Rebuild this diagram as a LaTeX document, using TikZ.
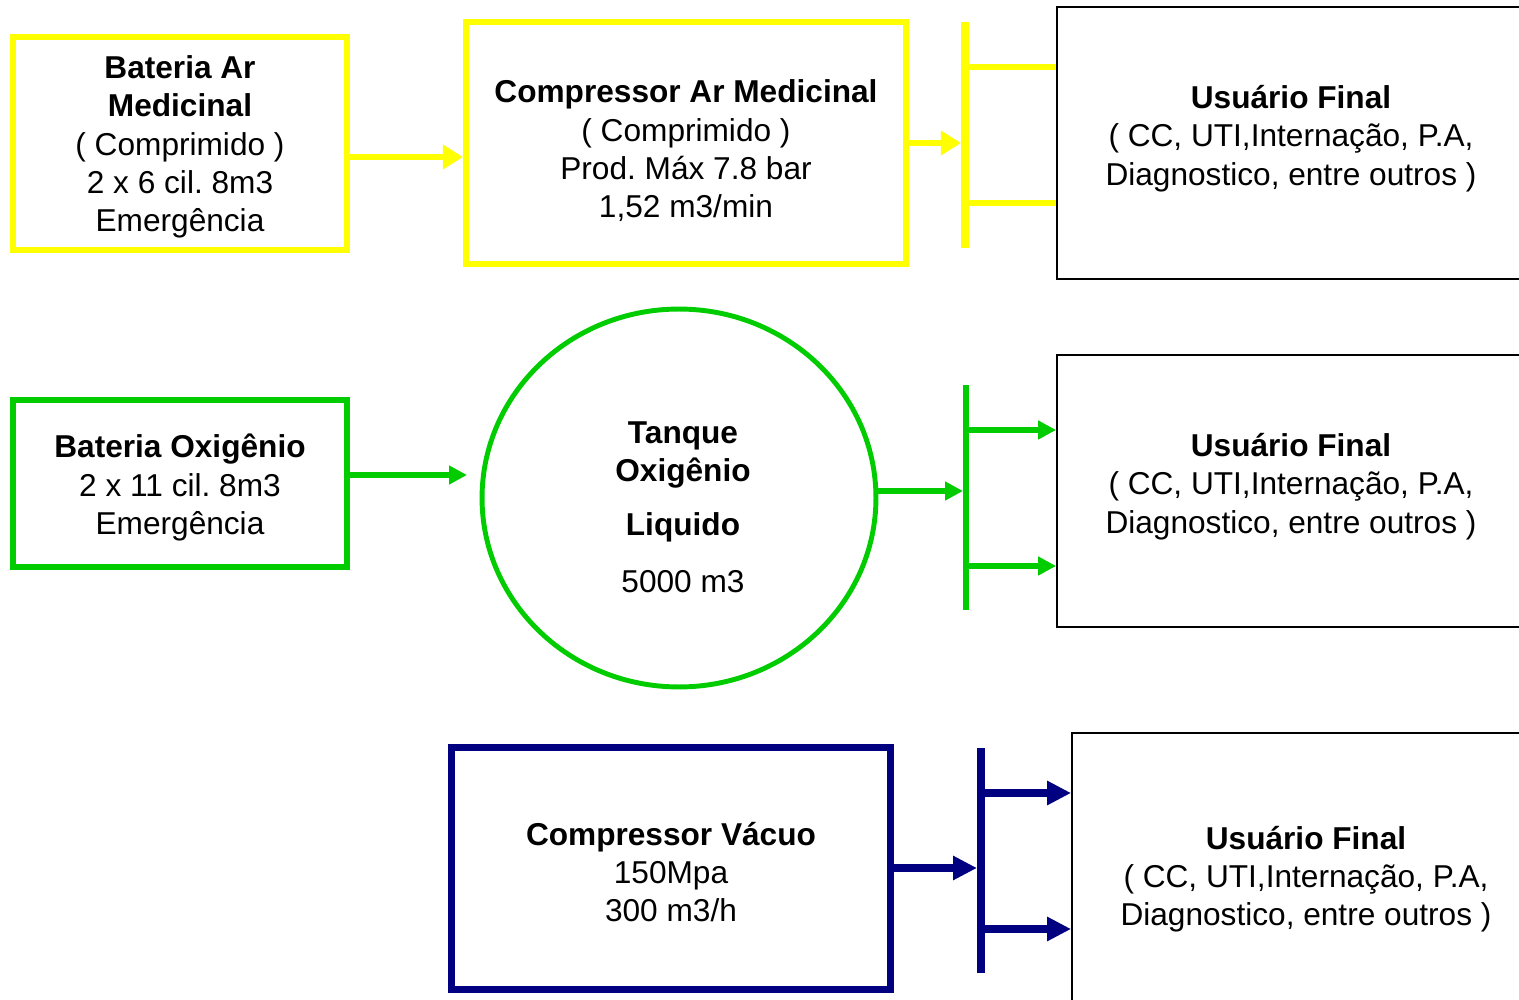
\documentclass[tikz,border=0pt]{standalone}
\usepackage{fontspec}
\setmainfont{Liberation Sans}
\usetikzlibrary{arrows.meta,shapes.geometric}
\definecolor{ylw}{HTML}{FFFF00}
\definecolor{grn}{HTML}{00CC00}
\definecolor{nvy}{HTML}{000080}
\frenchspacing
\begin{document}
\begin{tikzpicture}[x=0.02cm,y=-0.02cm,
  font=\fontsize{18}{21.8}\selectfont,
  txt/.style={align=center,inner sep=0pt},
  ybox/.style={draw=ylw,line width=3.6pt,inner sep=0pt},
  gbox/.style={draw=grn,line width=3.4pt,inner sep=0pt},
  nbox/.style={draw=nvy,line width=4pt,inner sep=0pt},
  ubox/.style={draw=black,line width=1.1pt,inner sep=0pt},
  ybar/.style={draw=ylw,line width=4pt},
  gbar/.style={draw=grn,line width=3.4pt},
  nbar/.style={draw=nvy,line width=4.5pt},
  yarr/.style={draw=ylw,line width=3.6pt,-{Triangle[length=11.5pt,width=13.5pt]}},
  yline/.style={draw=ylw,line width=3.6pt},
  garr/.style={draw=grn,line width=3.4pt,-{Triangle[length=10.2pt,width=10.2pt]}},
  narr/.style={draw=nvy,line width=4.5pt,-{Triangle[length=13.6pt,width=13pt]}}]
\useasboundingbox (0,0) rectangle (1519,1000);
\clip (0,0) rectangle (1519,1000);

% ---- medical air ----
\node[ybox,minimum width=6.68cm,minimum height=4.26cm] (b1) at (180,143.5) {};
\node[txt] (t1) at (180,147) {\textbf{Bateria Ar}\\\textbf{Medicinal}\\( Comprimido )\\2 x 6 cil. 8m3\\Emergência};
\node[ybox,minimum width=8.8cm,minimum height=4.84cm] (b2) at (686,143) {};
\node[txt] (t2) at (686,151) {\textbf{Compressor Ar Medicinal}\\( Comprimido )\\Prod. Máx 7.8 bar\\1,52 m3/min};
\node[ubox,minimum width=10.86cm,minimum height=5.44cm] (u1) at (1328.5,143) {};
\node[txt] (tu1) at (1291,138.5) {\textbf{Usuário Final}\\( CC, UTI,Internação, P.A,\\Diagnostico, entre outros )};
\coordinate (y1t) at (965,22);
\coordinate (y1b) at (965,248);
\draw[ybar] (y1t) -- (y1b);
\coordinate (a1e) at (463,157);
\draw[yarr] (b1.east |- a1e) -- (a1e);
\coordinate (a2e) at (961,143);
\draw[yarr] (b2.east |- a2e) -- (a2e);
\coordinate (yb1) at (965,67);
\coordinate (yb2) at (965,203);
\draw[yline] (yb1) -- (u1.west |- yb1);
\draw[yline] (yb2) -- (u1.west |- yb2);

% ---- oxygen ----
\node[gbox,minimum width=6.68cm,minimum height=3.34cm] (g1) at (180,483.5) {};
\node[txt] (tg) at (180,487.5) {\textbf{Bateria Oxigênio}\\2 x 11 cil. 8m3\\Emergência};
\node[ellipse,draw=grn,line width=2.8pt,inner sep=0pt,minimum width=7.88cm,minimum height=7.56cm] (tank) at (679,498) {};
\node[txt] (tc) at (683,507) {\textbf{Tanque}\\\textbf{Oxigênio}\\[8.8pt]\textbf{Liquido}\\[10.5pt]5000 m3};
\node[ubox,minimum width=10.86cm,minimum height=5.44cm] (u2) at (1328.5,491) {};
\node[txt] (tu2) at (1291,486.5) {\textbf{Usuário Final}\\( CC, UTI,Internação, P.A,\\Diagnostico, entre outros )};
\coordinate (g2t) at (966,385);
\coordinate (g2b) at (966,610);
\draw[gbar] (g2t) -- (g2b);
\coordinate (ga1) at (467,475);
\draw[garr] (g1.east |- ga1) -- (ga1);
\coordinate (ga2) at (963,491);
\draw[garr] (tank.east |- ga2) -- (ga2);
\coordinate (gb1) at (966,430);
\coordinate (gb2) at (966,566);
\draw[garr] (gb1) -- (u2.west |- gb1);
\draw[garr] (gb2) -- (u2.west |- gb2);

% ---- vacuum ----
\node[nbox,minimum width=8.8cm,minimum height=4.86cm] (n1) at (671,868.5) {};
\node[txt] (tn) at (671,872) {\textbf{Compressor Vácuo}\\150Mpa\\300 m3/h};
\node[ubox,minimum width=10.56cm,minimum height=6.54cm] (u3) at (1336,896.5) {};
\node[txt] (tu3) at (1306,879) {\textbf{Usuário Final}\\( CC, UTI,Internação, P.A,\\Diagnostico, entre outros )};
\coordinate (n2t) at (981,748);
\coordinate (n2b) at (981,973);
\draw[nbar] (n2t) -- (n2b);
\coordinate (na1) at (977,868);
\draw[narr] (n1.east |- na1) -- (na1);
\coordinate (nb1) at (981,793);
\coordinate (nb2) at (981,929);
\draw[narr] (nb1) -- (u3.west |- nb1);
\draw[narr] (nb2) -- (u3.west |- nb2);
\end{tikzpicture}
\end{document}
